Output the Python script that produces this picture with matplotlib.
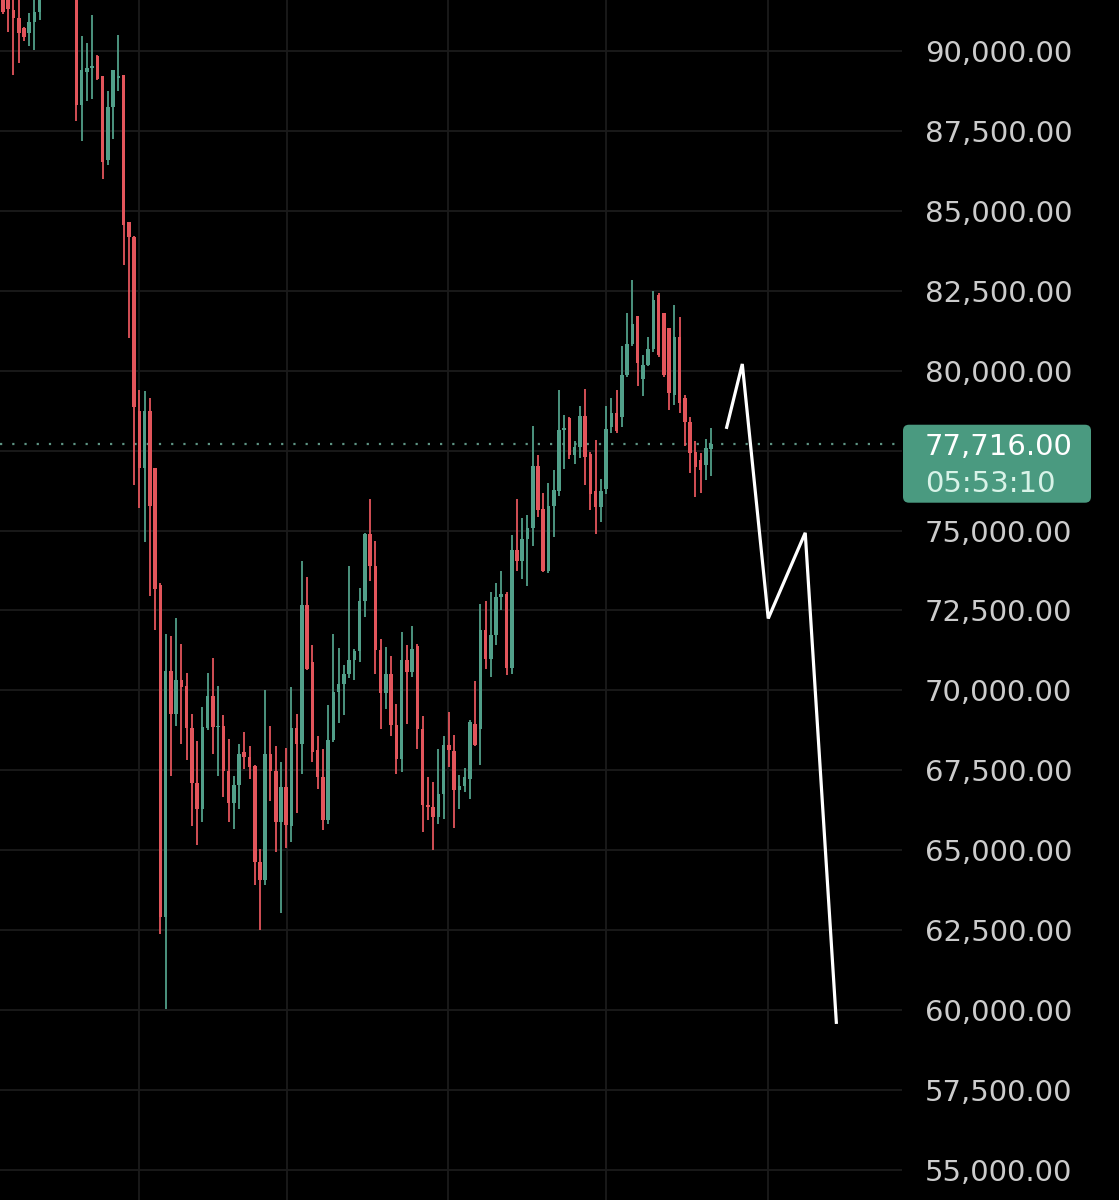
import numpy as np
import matplotlib
matplotlib.use("Agg")
import matplotlib.pyplot as plt
from matplotlib.patches import FancyBboxPatch
from matplotlib.transforms import IdentityTransform

## Data (one candle per entry)
opens = [91800, 91700, 91280, 91020, 90710, 90550, 90920, 91230, 91700, 92200,
         92700, 93100, 92800, 92400, 92500, 88310, 89350, 89460, 89850, 89220,
         86590, 88240, 89150, 89250, 84640, 84180, 78750, 76960, 78750, 76960,
         73290, 62900, 70610, 69270, 70330, 70140, 68830, 67110, 66280, 68830,
         69810, 68850, 68890, 67490, 66470, 67040, 68060, 67930, 67640, 64640,
         64080, 68000, 67490, 65870, 66980, 65770, 68830, 68330, 72660, 70890,
         68130, 67290, 65940, 68440, 69950, 70210, 70520, 70940, 71230, 72810,
         74900, 73880, 71250, 69920, 70500, 68910, 67860, 70940, 70570, 71380,
         68800, 66410, 66350, 66040, 66770, 68280, 68100, 66900, 67000, 67240,
         68960, 68800, 71880, 70990, 71720, 72920, 73020, 70700, 74380, 74060,
         74740, 75070, 77010, 75660, 73720, 75780, 76250, 78160, 78510, 77370,
         77600, 78570, 77400, 76250, 75730, 76300, 78250, 78680, 78560, 79860,
         80850, 81710, 79750, 80170, 80670, 82370, 81790, 81320, 79240, 81060,
         79140, 78410, 77470, 77210, 77050, 77540]
highs = [92000, 91900, 91650, 91700, 90760, 91180, 91700, 91900, 92400, 92900,
         93400, 93600, 93300, 92800, 92700, 90470, 90260, 91140, 89870, 89230,
         88760, 89420, 90510, 89260, 84640, 84200, 79410, 79350, 79160, 76970,
         73350, 71760, 71700, 72270, 71440, 70550, 69270, 68410, 69470, 70550,
         71000, 70130, 69240, 68480, 67320, 68320, 68700, 68250, 67680, 65030,
         70000, 68890, 68250, 67770, 68190, 70100, 69270, 74060, 73560, 71410,
         68560, 68180, 69530, 71770, 71320, 70780, 73890, 71300, 73210, 74920,
         75990, 74670, 71610, 71350, 71090, 69580, 71820, 71410, 72000, 71440,
         69190, 67290, 67140, 68180, 68590, 69320, 68620, 67370, 67570, 69090,
         70310, 72710, 72810, 73070, 73370, 73750, 73070, 74870, 75990, 75390,
         75490, 78260, 77370, 76180, 76490, 76880, 79410, 78620, 78540, 77810,
         78910, 79430, 77450, 77840, 76620, 78900, 79160, 79410, 80770, 81790,
         82850, 81720, 80490, 81060, 82500, 82420, 81810, 81330, 82050, 81690,
         79240, 78560, 77810, 77440, 77850, 78200]
lows = [91150, 90600, 89250, 89620, 90300, 90140, 90030, 90970, 91650, 91900,
        92300, 92500, 92100, 91900, 87810, 87190, 88440, 88500, 89100, 85990,
        86440, 87240, 88760, 83310, 81020, 76410, 75710, 74630, 72950, 71890,
        62390, 60030, 67320, 68890, 68320, 67810, 65770, 65150, 65890, 68760,
        68000, 67320, 66660, 65890, 65660, 66300, 67550, 67230, 63920, 62510,
        63920, 66530, 64940, 63050, 65060, 65270, 66160, 67400, 70650, 67760,
        66930, 65630, 65830, 68390, 68980, 69220, 70400, 70330, 70890, 72290,
        73420, 70520, 68800, 69430, 68590, 67400, 67450, 68940, 70420, 68180,
        65570, 65940, 65020, 65830, 65990, 67600, 65700, 66300, 66820, 66590,
        68250, 67680, 70680, 70420, 71410, 72500, 70470, 70520, 73750, 73470,
        73280, 74510, 75420, 73700, 73680, 74790, 76090, 76910, 77240, 77080,
        77260, 76430, 75630, 74900, 75280, 76150, 78060, 78060, 78250, 79810,
        80770, 79520, 79210, 80150, 80590, 80440, 79810, 78770, 78930, 78690,
        77630, 76790, 76060, 76170, 76580, 76710]
closes = [91230, 91300, 91020, 90550, 90430, 90920, 91210, 91700, 92200, 92700,
          93100, 92800, 92400, 92500, 88310, 89390, 89460, 89530, 89120, 86540,
          88260, 89400, 89220, 84560, 84180, 78880, 76960, 78750, 75780, 73160,
          62900, 70610, 69270, 70330, 70100, 68830, 67110, 66280, 68870, 69810,
          68870, 68900, 67490, 66470, 67040, 68000, 67930, 67620, 64640, 64080,
          68000, 67490, 65870, 66980, 65800, 68830, 68330, 72660, 70680, 68070,
          67290, 65940, 68440, 69950, 70210, 70520, 70940, 71230, 72810, 74900,
          73880, 71250, 69920, 70500, 68910, 67860, 70940, 70570, 71300, 68800,
          66410, 66350, 66040, 66770, 68280, 68130, 66880, 67000, 67300, 69010,
          68280, 71880, 70990, 71720, 72920, 73020, 70700, 74380, 74060, 74740,
          75070, 77010, 75630, 73720, 75780, 76280, 78130, 78200, 77370, 77600,
          78570, 77290, 76150, 75730, 76250, 78180, 78680, 78110, 79860, 80850,
          81460, 80230, 80170, 80670, 82210, 80490, 79860, 79290, 81060, 78980,
          78410, 77420, 77000, 76900, 77570, 77716]

# hand drawn zigzag (candle index, price)
zz_x = [137.9, 140.95, 145.9, 152.95, 158.9]
zz_y = [78180, 80210, 72250, 74930, 59570]

day_breaks = [25.9, 54.1, 84.8, 115.0, 145.9]   # vertical grid (session starts)
price_ticks = np.arange(55000, 90001, 2500)
countdown = "05:53:10"

GREEN = "#519f89"
RED = "#e2555b"
BG = "#000000"

o = np.array(opens, float)
h = np.array(highs, float)
l = np.array(lows, float)
c = np.array(closes, float)
idx = np.arange(len(o))
up = c >= o
cols = np.where(up, GREEN, RED)

## Plot
fig = plt.figure(figsize=(11.19, 12), dpi=100, facecolor=BG)
ax = fig.add_axes([0, 0, 902 / 1119, 1])
ax.set_facecolor(BG)
ax.set_xlim(-0.57, 171.4)
ax.set_ylim(54062.5, 91593.75)

for y in price_ticks:
    ax.axhline(y, color="#1b1b1b", lw=1.3, zorder=0)
for x in day_breaks:
    ax.axvline(x, color="#1b1b1b", lw=1.3, zorder=0)

ax.vlines(idx, l, h, colors=cols, lw=1.3, zorder=2)
ax.bar(idx, np.maximum(np.abs(c - o), 50), bottom=np.minimum(o, c),
       width=0.68, color=cols, linewidth=0, zorder=3)

last = c[-1]
ax.axhline(last, color="#5e9484", lw=1.6, linestyle=(0, (1, 4.5)), zorder=1)

ax.plot(zz_x, zz_y, color="white", lw=2.3, solid_joinstyle="miter",
        solid_capstyle="butt", zorder=4)

for s in ax.spines.values():
    s.set_visible(False)
ax.set_xticks([])
ax.yaxis.tick_right()
ax.set_yticks(price_ticks)
ax.set_yticklabels(["" if abs(t - 77500) < 1 else f"{t:,.2f}" for t in price_ticks])
ax.tick_params(axis="y", length=0, pad=16.5, labelsize=21, labelcolor="#cccccc")

# last price label on the scale
fig.canvas.draw()
y_pix = ax.transData.transform((0, last))[1]
box = FancyBboxPatch((903, y_pix - 59), 188, 78,
                     boxstyle="round,pad=0,rounding_size=6",
                     transform=IdentityTransform(), facecolor="#4a9a80",
                     edgecolor="none", zorder=5)
fig.patches.append(box)
fig.text(925, y_pix, f"{last:,.2f}", transform=IdentityTransform(),
         color="white", fontsize=21, va="center_baseline", ha="left", zorder=6)
fig.text(925, y_pix - 37, countdown, transform=IdentityTransform(),
         color="#d8f3e8", fontsize=21, va="center_baseline", ha="left", zorder=6)

fig.savefig("out.png", dpi=100, facecolor=BG)
